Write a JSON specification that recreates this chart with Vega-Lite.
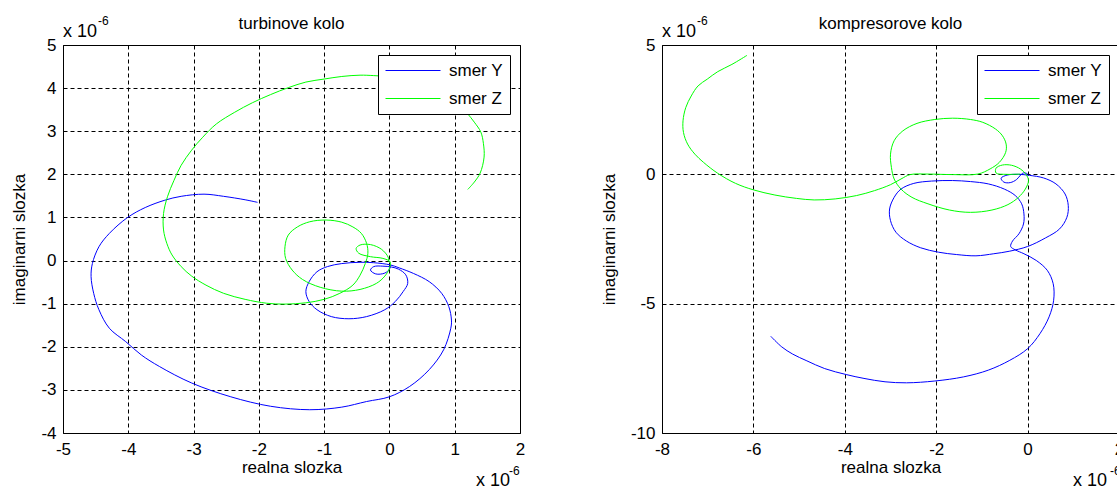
{
  "$schema": "https://vega.github.io/schema/vega-lite/v6.json",
  "padding": {"left": 10, "top": 14, "right": -5, "bottom": -4},
  "background": "white",
  "bounds": "flush",
  "spacing": 142,
  "config": {
    "font": "Liberation Sans",
    "view": {"stroke": "black", "strokeWidth": 1},
    "axis": {"grid": true, "gridColor": "black", "gridDash": [4, 3], "gridWidth": 1, "gridOpacity": 1, "domain": false, "ticks": false, "tickSize": 0, "labelFontSize": 17, "labelColor": "black", "labelFont": "Liberation Sans", "titleFont": "Liberation Sans", "titleFontSize": 17, "titleFontWeight": "normal", "titleColor": "black", "labelFlush": false, "labelOverlap": false},
    "axisX": {"labelPadding": 8, "titlePadding": 2},
    "axisY": {"labelPadding": 7, "titlePadding": 12},
    "title": {"fontSize": 17, "fontWeight": "normal", "color": "black", "font": "Liberation Sans", "offset": -18},
    "legend": {"orient": "top-right", "offset": 10, "fillColor": "white", "strokeColor": "black", "padding": 7, "symbolType": "stroke", "symbolSize": 3025, "symbolStrokeWidth": 1, "clipHeight": 17, "labelFontSize": 17, "labelFont": "Liberation Sans", "labelColor": "black", "labelOffset": 8, "rowPadding": 10, "title": null}
  },
  "resolve": {"scale": {"color": "independent", "x": "independent", "y": "independent"}, "legend": {"color": "independent"}},
  "datasets": {
    "turb": [
      {"s":"smer Y","i":0,"re":-2.02,"im":1.35},{"s":"smer Y","i":1,"re":-2.21,"im":1.41},{"s":"smer Y","i":2,"re":-2.54,"im":1.49},{"s":"smer Y","i":3,"re":-2.84,"im":1.54},{"s":"smer Y","i":4,"re":-3.19,"im":1.49},{"s":"smer Y","i":5,"re":-3.44,"im":1.40},{"s":"smer Y","i":6,"re":-3.74,"im":1.23},{"s":"smer Y","i":7,"re":-4.01,"im":1.0},{"s":"smer Y","i":8,"re":-4.29,"im":0.63},{"s":"smer Y","i":9,"re":-4.45,"im":0.32},{"s":"smer Y","i":10,"re":-4.55,"im":-0.07},{"s":"smer Y","i":11,"re":-4.57,"im":-0.37},{"s":"smer Y","i":12,"re":-4.53,"im":-0.76},{"s":"smer Y","i":13,"re":-4.45,"im":-1.14},{"s":"smer Y","i":14,"re":-4.29,"im":-1.57},{"s":"smer Y","i":15,"re":-4.04,"im":-1.88},{"s":"smer Y","i":16,"re":-3.80,"im":-2.19},{"s":"smer Y","i":17,"re":-3.52,"im":-2.46},{"s":"smer Y","i":18,"re":-3.03,"im":-2.84},{"s":"smer Y","i":19,"re":-2.43,"im":-3.16},{"s":"smer Y","i":20,"re":-1.82,"im":-3.38},{"s":"smer Y","i":21,"re":-1.22,"im":-3.46},{"s":"smer Y","i":22,"re":-0.73,"im":-3.40},{"s":"smer Y","i":23,"re":-0.35,"im":-3.27},{"s":"smer Y","i":24,"re":0.0,"im":-3.16},{"s":"smer Y","i":25,"re":0.31,"im":-2.92},{"s":"smer Y","i":26,"re":0.61,"im":-2.53},{"s":"smer Y","i":27,"re":0.83,"im":-2.07},{"s":"smer Y","i":28,"re":0.94,"im":-1.57},{"s":"smer Y","i":29,"re":0.95,"im":-1.38},{"s":"smer Y","i":30,"re":0.91,"im":-1.07},{"s":"smer Y","i":31,"re":0.80,"im":-0.76},{"s":"smer Y","i":32,"re":0.61,"im":-0.49},{"s":"smer Y","i":33,"re":0.37,"im":-0.30},{"s":"smer Y","i":34,"re":0.15,"im":-0.17},{"s":"smer Y","i":35,"re":0.01,"im":-0.10},{"s":"smer Y","i":36,"re":-0.24,"im":-0.05},{"s":"smer Y","i":37,"re":-0.45,"im":-0.04},{"s":"smer Y","i":38,"re":-0.73,"im":-0.07},{"s":"smer Y","i":39,"re":-0.95,"im":-0.14},{"s":"smer Y","i":40,"re":-1.11,"im":-0.26},{"s":"smer Y","i":41,"re":-1.23,"im":-0.49},{"s":"smer Y","i":42,"re":-1.28,"im":-0.72},{"s":"smer Y","i":43,"re":-1.23,"im":-0.95},{"s":"smer Y","i":44,"re":-1.11,"im":-1.14},{"s":"smer Y","i":45,"re":-0.89,"im":-1.30},{"s":"smer Y","i":46,"re":-0.62,"im":-1.35},{"s":"smer Y","i":47,"re":-0.35,"im":-1.30},{"s":"smer Y","i":48,"re":-0.07,"im":-1.14},{"s":"smer Y","i":49,"re":0.09,"im":-0.95},{"s":"smer Y","i":50,"re":0.21,"im":-0.72},{"s":"smer Y","i":51,"re":0.28,"im":-0.53},{"s":"smer Y","i":52,"re":0.25,"im":-0.33},{"s":"smer Y","i":53,"re":0.14,"im":-0.20},{"s":"smer Y","i":54,"re":0.03,"im":-0.15},{"s":"smer Y","i":55,"re":-0.10,"im":-0.13},{"s":"smer Y","i":56,"re":-0.24,"im":-0.14},{"s":"smer Y","i":57,"re":-0.29,"im":-0.22},{"s":"smer Y","i":58,"re":-0.21,"im":-0.31},{"s":"smer Y","i":59,"re":-0.07,"im":-0.29},{"s":"smer Y","i":60,"re":0.0,"im":-0.20},{"s":"smer Y","i":61,"re":0.02,"im":-0.10},
      {"s":"smer Z","i":0,"re":1.20,"im":1.65},{"s":"smer Z","i":1,"re":1.30,"im":1.82},{"s":"smer Z","i":2,"re":1.39,"im":2.03},{"s":"smer Z","i":3,"re":1.45,"im":2.40},{"s":"smer Z","i":4,"re":1.44,"im":2.71},{"s":"smer Z","i":5,"re":1.40,"im":2.98},{"s":"smer Z","i":6,"re":1.30,"im":3.21},{"s":"smer Z","i":7,"re":1.19,"im":3.42},{"s":"smer Z","i":8,"re":1.02,"im":3.71},{"s":"smer Z","i":9,"re":0.81,"im":3.94},{"s":"smer Z","i":10,"re":0.48,"im":4.14},{"s":"smer Z","i":11,"re":0.09,"im":4.25},{"s":"smer Z","i":12,"re":-0.24,"im":4.29},{"s":"smer Z","i":13,"re":-0.45,"im":4.30},{"s":"smer Z","i":14,"re":-0.73,"im":4.27},{"s":"smer Z","i":15,"re":-1.0,"im":4.21},{"s":"smer Z","i":16,"re":-1.28,"im":4.14},{"s":"smer Z","i":17,"re":-1.55,"im":4.01},{"s":"smer Z","i":18,"re":-1.82,"im":3.85},{"s":"smer Z","i":19,"re":-2.10,"im":3.66},{"s":"smer Z","i":20,"re":-2.37,"im":3.44},{"s":"smer Z","i":21,"re":-2.65,"im":3.17},{"s":"smer Z","i":22,"re":-2.86,"im":2.86},{"s":"smer Z","i":23,"re":-3.03,"im":2.56},{"s":"smer Z","i":24,"re":-3.19,"im":2.21},{"s":"smer Z","i":25,"re":-3.30,"im":1.86},{"s":"smer Z","i":26,"re":-3.40,"im":1.48},{"s":"smer Z","i":27,"re":-3.46,"im":1.09},{"s":"smer Z","i":28,"re":-3.46,"im":0.71},{"s":"smer Z","i":29,"re":-3.41,"im":0.40},{"s":"smer Z","i":30,"re":-3.33,"im":0.13},{"s":"smer Z","i":31,"re":-3.19,"im":-0.14},{"s":"smer Z","i":32,"re":-3.03,"im":-0.36},{"s":"smer Z","i":33,"re":-2.81,"im":-0.57},{"s":"smer Z","i":34,"re":-2.54,"im":-0.76},{"s":"smer Z","i":35,"re":-2.21,"im":-0.90},{"s":"smer Z","i":36,"re":-1.88,"im":-0.99},{"s":"smer Z","i":37,"re":-1.60,"im":-1.01},{"s":"smer Z","i":38,"re":-1.28,"im":-0.98},{"s":"smer Z","i":39,"re":-1.0,"im":-0.90},{"s":"smer Z","i":40,"re":-0.76,"im":-0.76},{"s":"smer Z","i":41,"re":-0.56,"im":-0.57},{"s":"smer Z","i":42,"re":-0.45,"im":-0.34},{"s":"smer Z","i":43,"re":-0.37,"im":-0.07},{"s":"smer Z","i":44,"re":-0.33,"im":0.17},{"s":"smer Z","i":45,"re":-0.35,"im":0.40},{"s":"smer Z","i":46,"re":-0.43,"im":0.63},{"s":"smer Z","i":47,"re":-0.56,"im":0.78},{"s":"smer Z","i":48,"re":-0.73,"im":0.89},{"s":"smer Z","i":49,"re":-0.97,"im":0.94},{"s":"smer Z","i":50,"re":-1.22,"im":0.90},{"s":"smer Z","i":51,"re":-1.41,"im":0.78},{"s":"smer Z","i":52,"re":-1.55,"im":0.59},{"s":"smer Z","i":53,"re":-1.60,"im":0.32},{"s":"smer Z","i":54,"re":-1.59,"im":0.05},{"s":"smer Z","i":55,"re":-1.49,"im":-0.22},{"s":"smer Z","i":56,"re":-1.33,"im":-0.44},{"s":"smer Z","i":57,"re":-1.06,"im":-0.62},{"s":"smer Z","i":58,"re":-0.73,"im":-0.71},{"s":"smer Z","i":59,"re":-0.45,"im":-0.67},{"s":"smer Z","i":60,"re":-0.20,"im":-0.53},{"s":"smer Z","i":61,"re":-0.07,"im":-0.36},{"s":"smer Z","i":62,"re":0.0,"im":-0.18},{"s":"smer Z","i":63,"re":0.01,"im":-0.03},{"s":"smer Z","i":64,"re":-0.10,"im":0.05},{"s":"smer Z","i":65,"re":-0.29,"im":0.09},{"s":"smer Z","i":66,"re":-0.47,"im":0.17},{"s":"smer Z","i":67,"re":-0.51,"im":0.28},{"s":"smer Z","i":68,"re":-0.45,"im":0.36},{"s":"smer Z","i":69,"re":-0.29,"im":0.37},{"s":"smer Z","i":70,"re":-0.12,"im":0.26},{"s":"smer Z","i":71,"re":-0.02,"im":0.08},{"s":"smer Z","i":72,"re":-0.01,"im":-0.03}
    ],
    "komp": [
      {"s":"smer Y","i":0,"re":-5.62,"im":-6.26},{"s":"smer Y","i":1,"re":-5.38,"im":-6.67},{"s":"smer Y","i":2,"re":-5.14,"im":-6.95},{"s":"smer Y","i":3,"re":-4.83,"im":-7.21},{"s":"smer Y","i":4,"re":-4.44,"im":-7.51},{"s":"smer Y","i":5,"re":-3.97,"im":-7.74},{"s":"smer Y","i":6,"re":-3.58,"im":-7.89},{"s":"smer Y","i":7,"re":-3.12,"im":-8.02},{"s":"smer Y","i":8,"re":-2.65,"im":-8.06},{"s":"smer Y","i":9,"re":-2.03,"im":-7.99},{"s":"smer Y","i":10,"re":-1.40,"im":-7.83},{"s":"smer Y","i":11,"re":-0.86,"im":-7.57},{"s":"smer Y","i":12,"re":-0.39,"im":-7.19},{"s":"smer Y","i":13,"re":0.0,"im":-6.74},{"s":"smer Y","i":14,"re":0.27,"im":-6.16},{"s":"smer Y","i":15,"re":0.47,"im":-5.51},{"s":"smer Y","i":16,"re":0.57,"im":-4.87},{"s":"smer Y","i":17,"re":0.56,"im":-4.23},{"s":"smer Y","i":18,"re":0.43,"im":-3.71},{"s":"smer Y","i":19,"re":0.19,"im":-3.33},{"s":"smer Y","i":20,"re":-0.08,"im":-3.07},{"s":"smer Y","i":21,"re":-0.27,"im":-2.92},{"s":"smer Y","i":22,"re":-0.37,"im":-2.79},{"s":"smer Y","i":23,"re":-0.33,"im":-2.58},{"s":"smer Y","i":24,"re":-0.19,"im":-2.30},{"s":"smer Y","i":25,"re":-0.09,"im":-1.92},{"s":"smer Y","i":26,"re":-0.08,"im":-1.53},{"s":"smer Y","i":27,"re":-0.13,"im":-1.14},{"s":"smer Y","i":28,"re":-0.27,"im":-0.82},{"s":"smer Y","i":29,"re":-0.51,"im":-0.57},{"s":"smer Y","i":30,"re":-0.86,"im":-0.37},{"s":"smer Y","i":31,"re":-1.25,"im":-0.28},{"s":"smer Y","i":32,"re":-1.64,"im":-0.24},{"s":"smer Y","i":33,"re":-2.10,"im":-0.26},{"s":"smer Y","i":34,"re":-2.49,"im":-0.35},{"s":"smer Y","i":35,"re":-2.77,"im":-0.57},{"s":"smer Y","i":36,"re":-2.92,"im":-0.89},{"s":"smer Y","i":37,"re":-3.02,"im":-1.34},{"s":"smer Y","i":38,"re":-3.0,"im":-1.79},{"s":"smer Y","i":39,"re":-2.88,"im":-2.24},{"s":"smer Y","i":40,"re":-2.65,"im":-2.58},{"s":"smer Y","i":41,"re":-2.34,"im":-2.84},{"s":"smer Y","i":42,"re":-1.95,"im":-3.01},{"s":"smer Y","i":43,"re":-1.56,"im":-3.10},{"s":"smer Y","i":44,"re":-1.13,"im":-3.15},{"s":"smer Y","i":45,"re":-0.74,"im":-3.07},{"s":"smer Y","i":46,"re":-0.39,"im":-2.97},{"s":"smer Y","i":47,"re":0.0,"im":-2.79},{"s":"smer Y","i":48,"re":0.39,"im":-2.46},{"s":"smer Y","i":49,"re":0.70,"im":-2.11},{"s":"smer Y","i":50,"re":0.86,"im":-1.66},{"s":"smer Y","i":51,"re":0.89,"im":-1.21},{"s":"smer Y","i":52,"re":0.82,"im":-0.76},{"s":"smer Y","i":53,"re":0.62,"im":-0.37},{"s":"smer Y","i":54,"re":0.35,"im":-0.14},{"s":"smer Y","i":55,"re":0.04,"im":-0.04},{"s":"smer Y","i":56,"re":-0.20,"im":0.0},{"s":"smer Y","i":57,"re":-0.45,"im":-0.03},{"s":"smer Y","i":58,"re":-0.58,"im":-0.15},{"s":"smer Y","i":59,"re":-0.52,"im":-0.30},{"s":"smer Y","i":60,"re":-0.38,"im":-0.32},{"s":"smer Y","i":61,"re":-0.24,"im":-0.20},{"s":"smer Y","i":62,"re":-0.15,"im":-0.02},{"s":"smer Y","i":63,"re":-0.08,"im":0.06},{"s":"smer Y","i":64,"re":0.0,"im":0.02},
      {"s":"smer Z","i":0,"re":-6.14,"im":4.60},{"s":"smer Z","i":1,"re":-6.47,"im":4.25},{"s":"smer Z","i":2,"re":-6.78,"im":3.97},{"s":"smer Z","i":3,"re":-7.01,"im":3.68},{"s":"smer Z","i":4,"re":-7.21,"im":3.42},{"s":"smer Z","i":5,"re":-7.36,"im":3.03},{"s":"smer Z","i":6,"re":-7.48,"im":2.58},{"s":"smer Z","i":7,"re":-7.54,"im":2.07},{"s":"smer Z","i":8,"re":-7.53,"im":1.62},{"s":"smer Z","i":9,"re":-7.44,"im":1.17},{"s":"smer Z","i":10,"re":-7.28,"im":0.78},{"s":"smer Z","i":11,"re":-7.09,"im":0.46},{"s":"smer Z","i":12,"re":-6.78,"im":0.04},{"s":"smer Z","i":13,"re":-6.39,"im":-0.35},{"s":"smer Z","i":14,"re":-6.0,"im":-0.60},{"s":"smer Z","i":15,"re":-5.53,"im":-0.80},{"s":"smer Z","i":16,"re":-5.06,"im":-0.93},{"s":"smer Z","i":17,"re":-4.67,"im":-0.99},{"s":"smer Z","i":18,"re":-4.21,"im":-0.95},{"s":"smer Z","i":19,"re":-3.74,"im":-0.82},{"s":"smer Z","i":20,"re":-3.35,"im":-0.63},{"s":"smer Z","i":21,"re":-3.0,"im":-0.40},{"s":"smer Z","i":22,"re":-2.77,"im":-0.18},{"s":"smer Z","i":23,"re":-2.57,"im":-0.01},{"s":"smer Z","i":24,"re":-2.18,"im":0.01},{"s":"smer Z","i":25,"re":-1.64,"im":-0.01},{"s":"smer Z","i":26,"re":-1.09,"im":0.01},{"s":"smer Z","i":27,"re":-0.82,"im":0.21},{"s":"smer Z","i":28,"re":-0.62,"im":0.46},{"s":"smer Z","i":29,"re":-0.48,"im":0.85},{"s":"smer Z","i":30,"re":-0.47,"im":1.17},{"s":"smer Z","i":31,"re":-0.55,"im":1.49},{"s":"smer Z","i":32,"re":-0.70,"im":1.75},{"s":"smer Z","i":33,"re":-0.98,"im":2.01},{"s":"smer Z","i":34,"re":-1.25,"im":2.12},{"s":"smer Z","i":35,"re":-1.64,"im":2.17},{"s":"smer Z","i":36,"re":-2.03,"im":2.12},{"s":"smer Z","i":37,"re":-2.42,"im":1.97},{"s":"smer Z","i":38,"re":-2.73,"im":1.68},{"s":"smer Z","i":39,"re":-2.92,"im":1.30},{"s":"smer Z","i":40,"re":-3.0,"im":0.78},{"s":"smer Z","i":41,"re":-2.98,"im":0.27},{"s":"smer Z","i":42,"re":-2.92,"im":-0.18},{"s":"smer Z","i":43,"re":-2.77,"im":-0.57},{"s":"smer Z","i":44,"re":-2.53,"im":-0.89},{"s":"smer Z","i":45,"re":-2.18,"im":-1.14},{"s":"smer Z","i":46,"re":-1.71,"im":-1.38},{"s":"smer Z","i":47,"re":-1.25,"im":-1.47},{"s":"smer Z","i":48,"re":-0.78,"im":-1.38},{"s":"smer Z","i":49,"re":-0.43,"im":-1.17},{"s":"smer Z","i":50,"re":-0.20,"im":-0.89},{"s":"smer Z","i":51,"re":-0.05,"im":-0.57},{"s":"smer Z","i":52,"re":0.02,"im":-0.24},{"s":"smer Z","i":53,"re":-0.04,"im":0.01},{"s":"smer Z","i":54,"re":-0.16,"im":0.21},{"s":"smer Z","i":55,"re":-0.35,"im":0.35},{"s":"smer Z","i":56,"re":-0.55,"im":0.36},{"s":"smer Z","i":57,"re":-0.69,"im":0.24},{"s":"smer Z","i":58,"re":-0.69,"im":0.05},{"s":"smer Z","i":59,"re":-0.47,"im":0.0},{"s":"smer Z","i":60,"re":-0.16,"im":0.01}
    ]
  },
  "hconcat": [
    {
      "width": 457,
      "height": 388,
      "title": {"text": "turbinove kolo"},
      "encoding": {
        "x": {"field": "re", "type": "quantitative", "scale": {"domain": [-5, 2], "nice": false, "zero": false}, "axis": {"title": "realna slozka", "values": [-5, -4, -3, -2, -1, 0, 1, 2], "labelExpr": "toString(datum.value)"}},
        "y": {"field": "im", "type": "quantitative", "scale": {"domain": [-4, 5], "nice": false, "zero": false}, "axis": {"title": "imaginarni slozka", "values": [-4, -3, -2, -1, 0, 1, 2, 3, 4, 5], "labelExpr": "toString(datum.value)"}}
      },
      "layer": [
        {
          "data": {"name": "turb"},
          "mark": {"type": "line", "strokeWidth": 1, "interpolate": "catmull-rom"},
          "encoding": {
            "color": {"field": "s", "type": "nominal", "scale": {"domain": ["smer Y", "smer Z"], "range": ["#0000ff", "#00ff00"]}, "legend": {"title": null}},
            "order": {"field": "i", "type": "quantitative"}
          }
        },
        {
          "data": {"values": [{"t": "x 10", "re": -5, "im": 5}]},
          "mark": {"type": "text", "align": "left", "baseline": "alphabetic", "dy": -8, "fontSize": 18, "color": "black", "font": "Liberation Sans"},
          "encoding": {"text": {"field": "t"}}
        },
        {
          "data": {"values": [{"t": "-6", "re": -5, "im": 5}]},
          "mark": {"type": "text", "align": "left", "baseline": "alphabetic", "dx": 35, "dy": -20, "fontSize": 12, "color": "black", "font": "Liberation Sans"},
          "encoding": {"text": {"field": "t"}}
        },
        {
          "data": {"values": [{"t": "x 10", "re": 2, "im": -4}]},
          "mark": {"type": "text", "align": "right", "baseline": "alphabetic", "dx": -10, "dy": 53, "fontSize": 18, "color": "black", "font": "Liberation Sans"},
          "encoding": {"text": {"field": "t"}}
        },
        {
          "data": {"values": [{"t": "-6", "re": 2, "im": -4}]},
          "mark": {"type": "text", "align": "left", "baseline": "alphabetic", "dx": -11, "dy": 42, "fontSize": 12, "color": "black", "font": "Liberation Sans"},
          "encoding": {"text": {"field": "t"}}
        }
      ]
    },
    {
      "width": 457,
      "height": 388,
      "title": {"text": "kompresorove kolo"},
      "encoding": {
        "x": {"field": "re", "type": "quantitative", "scale": {"domain": [-8, 2], "nice": false, "zero": false}, "axis": {"title": "realna slozka", "values": [-8, -6, -4, -2, 0, 2], "labelExpr": "toString(datum.value)"}},
        "y": {"field": "im", "type": "quantitative", "scale": {"domain": [-10, 5], "nice": false, "zero": false}, "axis": {"title": "imaginarni slozka", "values": [-10, -5, 0, 5], "labelExpr": "toString(datum.value)"}}
      },
      "layer": [
        {
          "data": {"name": "komp"},
          "mark": {"type": "line", "strokeWidth": 1, "interpolate": "catmull-rom"},
          "encoding": {
            "color": {"field": "s", "type": "nominal", "scale": {"domain": ["smer Y", "smer Z"], "range": ["#0000ff", "#00ff00"]}, "legend": {"title": null}},
            "order": {"field": "i", "type": "quantitative"}
          }
        },
        {
          "data": {"values": [{"t": "x 10", "re": -8, "im": 5}]},
          "mark": {"type": "text", "align": "left", "baseline": "alphabetic", "dy": -8, "fontSize": 18, "color": "black", "font": "Liberation Sans"},
          "encoding": {"text": {"field": "t"}}
        },
        {
          "data": {"values": [{"t": "-6", "re": -8, "im": 5}]},
          "mark": {"type": "text", "align": "left", "baseline": "alphabetic", "dx": 35, "dy": -20, "fontSize": 12, "color": "black", "font": "Liberation Sans"},
          "encoding": {"text": {"field": "t"}}
        },
        {
          "data": {"values": [{"t": "x 10", "re": 2, "im": -10}]},
          "mark": {"type": "text", "align": "right", "baseline": "alphabetic", "dx": -12, "dy": 53, "fontSize": 18, "color": "black", "font": "Liberation Sans"},
          "encoding": {"text": {"field": "t"}}
        },
        {
          "data": {"values": [{"t": "-6", "re": 2, "im": -10}]},
          "mark": {"type": "text", "align": "left", "baseline": "alphabetic", "dx": -9, "dy": 42, "fontSize": 12, "color": "black", "font": "Liberation Sans"},
          "encoding": {"text": {"field": "t"}}
        }
      ]
    }
  ]
}
